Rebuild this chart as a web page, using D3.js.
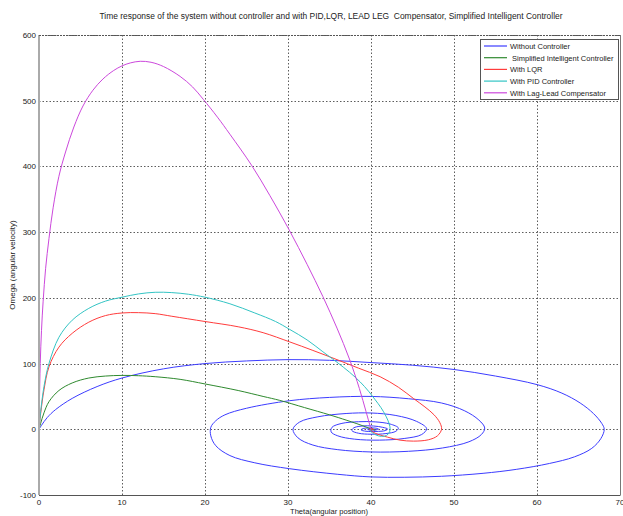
<!DOCTYPE html>
<html>
<head>
<meta charset="utf-8">
<script src="https://cdn.jsdelivr.net/npm/d3@7"></script>
<style>
  body { margin: 0; background: #fff; }
  svg { display: block; font-family: "Liberation Sans", Arial, sans-serif; }
  .tick-label { font-size: 8px; fill: #222; }
</style>
</head>
<body>
<svg id="chart" width="623" height="516"></svg>
<script>
// [theta, omega] points
const withoutController = [
  [0, 0], [0.3, 6], [1, 18], [2, 30], [4, 47], [7, 65], [10, 78], [15, 92], [20, 100],
  [25, 104], [30, 106], [35, 105], [40, 101.5], [45, 97.5], [50, 91], [55, 81], [60, 68],
  [63, 55], [65.2, 40], [66.8, 24], [67.8, 9], [68.1, 0], [67.7, -14], [66.6, -29],
  [64.5, -42], [61.5, -52], [57.5, -61], [53.5, -67], [48.5, -71.5], [44, -73], [40, -72.5],
  [36, -68.5], [30.2, -60], [26, -51], [23, -40], [21.3, -25], [20.7, -10], [20.7, 3],
  [21.3, 13], [22.4, 22], [25, 32], [30.2, 43.5], [35, 48.5], [40, 50], [44.5, 46.5],
  [48.5, 40], [51.3, 28], [53, 14], [53.7, 2], [53.3, -8], [51.8, -19], [48.6, -28.5],
  [44.5, -33.5], [40, -34.5], [36, -31], [33, -24], [31.2, -13], [30.6, 0], [31.4, 11],
  [33.6, 19], [37, 24], [40, 24.8], [43, 21], [45.5, 12], [46.7, 1], [46.1, -8], [44, -14],
  [41, -16.5], [38, -15], [36, -10], [35.2, -4], [35.3, 3], [36.5, 9], [38.5, 11.5],
  [40.5, 11.3], [42.3, 8], [43.3, 2], [43, -3], [41.8, -6.5], [40, -7.5], [38.5, -6],
  [37.7, -2], [37.9, 2], [38.8, 4.8], [40.3, 5], [41.4, 3], [42, 0.5], [41.7, -2],
  [40.6, -3.3], [39.4, -3], [38.8, -1], [39, 1], [39.7, 2], [40.5, 1.8], [40.9, 0.5],
  [40.6, -1], [40, -1.2], [39.6, -0.4], [39.8, 0.5], [40.2, 0.4], [40.1, 0]
];

const simplifiedIntelligent = [
  [0, 0], [0.2, 9], [0.6, 25], [1.2, 42], [2.4, 59], [4, 70.5], [6, 78], [8, 81], [10, 82],
  [12, 81.5], [14, 80], [17, 76], [20, 69], [24, 59], [27, 50], [29, 44], [32, 33],
  [35, 22], [37, 14], [38.3, 8.5], [39.5, 3], [40.2, -0.5], [40.5, -1], [40.2, 0], [40, 0]
];

const withLQR = [
  [0, 0], [0.2, 24], [0.6, 60], [1.2, 95], [2.4, 125], [4, 146], [6, 163], [8, 173],
  [10, 177], [12, 177.5], [14, 176], [16, 172], [20, 164], [24, 156], [27, 147],
  [30.2, 133], [33, 120], [35.9, 106], [38.5, 93], [41.1, 80], [43.3, 64], [45.1, 47],
  [46.5, 34], [47.6, 22], [48.3, 10], [48.5, 0], [48, -10], [46.9, -16], [45.1, -18],
  [43.5, -16.5], [42, -12], [40.5, -6], [40, -2], [39.8, 0.5], [40.1, 1], [40.3, 0], [40, 0]
];

const withPID = [
  [0, 0], [0.2, 27], [0.6, 65], [1.2, 100], [2.4, 140], [4, 166], [6, 184], [8, 195],
  [10, 201], [12, 206], [14, 208.5], [16, 208], [18, 205.5], [20, 201], [23, 191],
  [26, 177], [28.5, 164], [30.2, 152], [32.3, 136], [34.2, 118], [35.9, 102], [37.4, 87],
  [38.7, 72], [39.7, 58], [40.5, 45], [41.2, 33], [41.8, 20], [42.2, 8], [42.3, 0],
  [42.1, -7], [41.6, -10.5], [40.9, -10], [40.3, -6.5], [39.9, -2], [40, 0]
];

const withLagLead = [
  [0, 0], [0.05, 40], [0.15, 100], [0.3, 150], [0.5, 195], [0.8, 245], [1.2, 290],
  [1.7, 337], [2.4, 385], [3.2, 422], [4.2, 460], [5.3, 492], [6.5, 516], [7.7, 533],
  [9, 546], [10, 553], [11, 557.5], [12.2, 560], [13.5, 558.5], [15, 552], [17, 537],
  [18.5, 521], [19.8, 502], [21.5, 475], [23, 449], [25.6, 402], [27.8, 356], [30.2, 302],
  [32.3, 251], [34.2, 202], [35.9, 154], [37.4, 107], [38.6, 62], [39.4, 27], [40, 0]
];

const seriesNames = [
  "Without Controller",
  " Simplified Intelligent Controller",
  "With LQR",
  "With PID Controller",
  "With Lag-Lead Compensator"
];
const seriesColors = ["#3c3cff", "#2f8a2f", "#ff3c3c", "#33c4c4", "#cc48dc"];
const seriesData = [withoutController, simplifiedIntelligent, withLQR, withPID, withLagLead];

const xTicks = [0, 10, 20, 30, 40, 50, 60, 70];
const yTicks = [-100, 0, 100, 200, 300, 400, 500, 600];

const titleText = "Time response of the system without controller and with PID,LQR, LEAD LEG  Compensator, Simplified Intelligent Controller";
const xLabel = "Theta(angular position)";
const yLabel = "Omega (angular velocity)";

const svg = d3.select("#chart");
const plotLeft = 39, plotRight = 620, plotTop = 35, plotBottom = 495;

const x = d3.scaleLinear().domain([0, 70]).range([plotLeft, plotRight]);
const y = d3.scaleLinear().domain([-100, 600]).range([plotBottom, plotTop]);

svg.append("defs")
  .append("clipPath")
  .attr("id", "plot-clip")
  .append("rect")
  .attr("x", plotLeft)
  .attr("y", plotTop)
  .attr("width", plotRight - plotLeft)
  .attr("height", plotBottom - plotTop);

// grid
const grid = svg.append("g").attr("stroke", "#333").attr("stroke-dasharray", "1.5,2").attr("stroke-width", 0.8);
grid.selectAll(".gx")
  .data(xTicks.slice(1, -1))
  .join("line")
  .attr("x1", (d) => Math.round(x(d)) + 0.5)
  .attr("x2", (d) => Math.round(x(d)) + 0.5)
  .attr("y1", plotTop)
  .attr("y2", plotBottom);
grid.selectAll(".gy")
  .data(yTicks.slice(1))
  .join("line")
  .attr("x1", plotLeft)
  .attr("x2", plotRight)
  .attr("y1", (d) => Math.round(y(d)) + 0.5)
  .attr("y2", (d) => Math.round(y(d)) + 0.5);

// curves
const line = d3.line()
  .x((d) => x(d[0]))
  .y((d) => y(d[1]))
  .curve(d3.curveCatmullRom.alpha(0.5));

svg.append("g")
  .attr("clip-path", "url(#plot-clip)")
  .selectAll("path")
  .data(seriesData)
  .join("path")
  .attr("d", line)
  .attr("fill", "none")
  .attr("stroke", (d, i) => seriesColors[i])
  .attr("stroke-width", 1);

// axes box
svg.append("line").attr("x1", plotLeft).attr("x2", plotLeft).attr("y1", plotTop).attr("y2", plotBottom)
  .attr("stroke", "#aaa").attr("stroke-width", 2);
svg.append("line").attr("x1", plotLeft).attr("x2", plotRight + 0.5).attr("y1", plotBottom + 0.5).attr("y2", plotBottom + 0.5)
  .attr("stroke", "#555").attr("stroke-width", 1);
svg.append("line").attr("x1", plotRight + 0.5).attr("x2", plotRight + 0.5).attr("y1", plotTop).attr("y2", plotBottom)
  .attr("stroke", "#777").attr("stroke-width", 1);
svg.append("line").attr("x1", plotLeft).attr("x2", plotRight).attr("y1", plotTop + 0.5).attr("y2", plotTop + 0.5)
  .attr("stroke", "#555").attr("stroke-width", 1).attr("stroke-dasharray", "2,1");

// tick labels
svg.append("g")
  .selectAll("text")
  .data(xTicks)
  .join("text")
  .attr("class", "tick-label")
  .attr("x", (d) => x(d))
  .attr("y", plotBottom + 10)
  .attr("text-anchor", "middle")
  .text((d) => d);

svg.append("g")
  .selectAll("text")
  .data(yTicks)
  .join("text")
  .attr("class", "tick-label")
  .attr("x", plotLeft - 3)
  .attr("y", (d) => y(d) + 3)
  .attr("text-anchor", "end")
  .text((d) => d);

// title & labels
svg.append("text")
  .attr("x", 331)
  .attr("y", 19)
  .attr("text-anchor", "middle")
  .attr("font-size", 8.5)
  .attr("fill", "#222")
  .attr("textLength", 463)
  .attr("lengthAdjust", "spacingAndGlyphs")
  .style("white-space", "pre")
  .text(titleText);

svg.append("text")
  .attr("x", 329)
  .attr("y", 514)
  .attr("text-anchor", "middle")
  .attr("font-size", 7.5)
  .attr("fill", "#222")
  .attr("textLength", 78)
  .attr("lengthAdjust", "spacingAndGlyphs")
  .text(xLabel);

svg.append("text")
  .attr("transform", "rotate(-90)")
  .attr("x", -265)
  .attr("y", 15)
  .attr("text-anchor", "middle")
  .attr("font-size", 8)
  .attr("fill", "#222")
  .text(yLabel);

// legend
const legend = svg.append("g");
legend.append("rect")
  .attr("x", 480.5)
  .attr("y", 39.5)
  .attr("width", 138)
  .attr("height", 60)
  .attr("fill", "#fff")
  .attr("stroke", "#555");

const legendRows = legend.selectAll("g.row")
  .data(seriesNames)
  .join("g")
  .attr("class", "row")
  .attr("transform", (d, i) => `translate(0,${46 + i * 11.7})`);

legendRows.append("line")
  .attr("x1", 484)
  .attr("x2", 507)
  .attr("stroke", (d, i) => seriesColors[i])
  .attr("stroke-width", 1.2);

legendRows.append("text")
  .attr("x", 510)
  .attr("y", 3)
  .attr("font-size", 7.5)
  .attr("fill", "#222")
  .style("white-space", "pre")
  .text((d) => d);
</script>
</body>
</html>
